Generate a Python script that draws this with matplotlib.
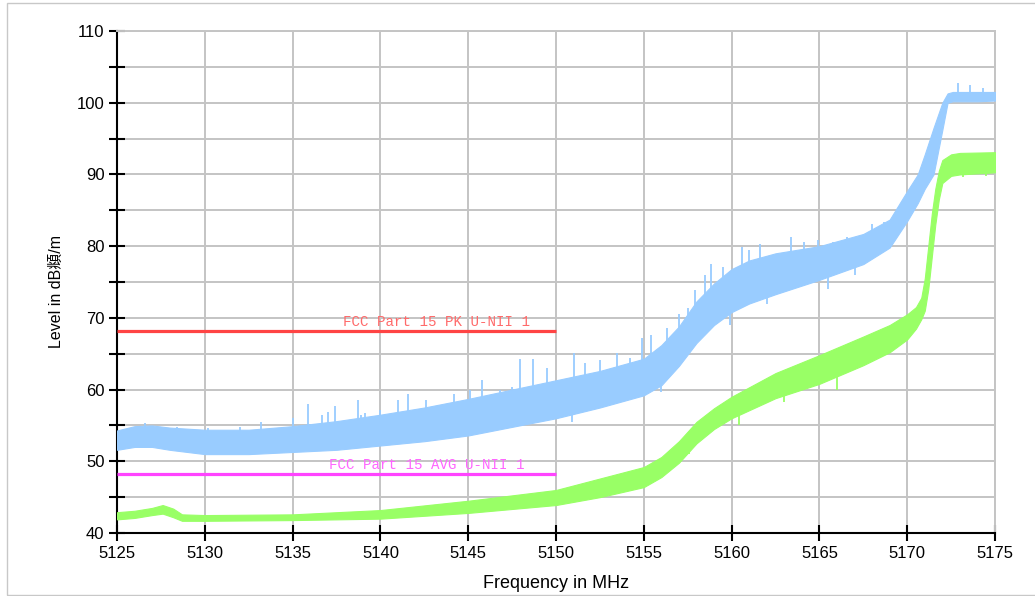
import numpy as np
import matplotlib
matplotlib.use("Agg")
import matplotlib.pyplot as plt
from matplotlib.patches import Rectangle

# ---------------- data ----------------
# Peak trace (blue) envelope
blue_freq = [5125, 5126, 5127, 5128, 5130, 5132.5, 5135, 5137.5, 5140, 5142.5,
             5145, 5147.5, 5150, 5152.5, 5155, 5156, 5157, 5158, 5159, 5160,
             5161, 5162.5, 5165, 5167.5, 5169, 5170, 5170.6, 5171, 5171.5,
             5172, 5172.3, 5172.6, 5174, 5175]
blue_upper = [54.3, 54.9, 55.0, 54.7, 54.4, 54.4, 54.9, 55.6, 56.5, 57.5,
              58.7, 60.0, 61.3, 62.6, 64.3, 66.2, 68.8, 72.3, 74.8, 76.8,
              78.0, 79.0, 80.0, 81.7, 83.7, 87.7, 90.0, 92.8, 96.5,
              100.0, 101.3, 101.5, 101.5, 101.5]
blue_lower = [51.6, 52.0, 52.0, 51.6, 51.0, 51.0, 51.3, 51.6, 52.2, 52.8,
              53.6, 54.8, 56.0, 57.5, 59.2, 60.6, 63.3, 66.5, 69.0, 70.8,
              72.0, 73.3, 75.3, 77.5, 79.8, 83.5, 86.0, 88.0, 90.0,
              96.2, 100.0, 100.2, 100.2, 100.3]
# isolated peaks of the blue trace
blue_spike_freq = [5126.6, 5128.4, 5130.2, 5132.0, 5133.2, 5135.0, 5135.9, 5136.7,
                   5137.0, 5137.4, 5138.7, 5138.9, 5139.1, 5140.0, 5141.0, 5141.6,
                   5142.6, 5144.2, 5145.1, 5145.8, 5146.8, 5147.5, 5147.95, 5148.7,
                   5149.5, 5151.0, 5151.65, 5152.5, 5153.5, 5154.2, 5154.9, 5155.4,
                   5156.3, 5157.0, 5157.5, 5157.9, 5158.5, 5158.8, 5159.5, 5160.6,
                   5161.0, 5161.6, 5162.2, 5163.4, 5164.1, 5164.9, 5165.8, 5166.6,
                   5168.0, 5168.7, 5172.9, 5173.6, 5174.3]
blue_spike_level = [55.3, 54.8, 54.6, 54.8, 55.5, 56.0, 58.0, 56.5,
                    56.9, 57.7, 58.5, 56.5, 56.7, 57.2, 58.5, 59.4,
                    58.5, 59.4, 59.9, 61.3, 59.9, 60.4, 64.3, 64.3,
                    63.0, 65.1, 63.7, 64.1, 65.1, 64.4, 67.2, 67.6,
                    68.6, 70.5, 71.4, 73.9, 76.0, 77.5, 77.1, 79.9,
                    79.5, 80.3, 78.5, 81.3, 80.6, 80.9, 80.6, 81.3,
                    83.1, 83.4, 102.7, 102.5, 102.0]
blue_dip_freq = [5150.9, 5156.0, 5159.9, 5162.0, 5165.5, 5167.0]
blue_dip_level = [55.5, 59.7, 69.0, 72.0, 74.0, 76.0]

# Average trace (green) envelope
green_freq = [5125, 5126, 5127, 5127.6, 5128.2, 5128.7, 5130, 5135, 5140, 5145,
              5150, 5152.5, 5155, 5156, 5157, 5158, 5159, 5160, 5162.5, 5165,
              5167.5, 5169, 5170, 5170.5, 5170.8, 5171.0, 5171.2, 5171.4,
              5171.6, 5171.8, 5172, 5172.5, 5173, 5175]
green_upper = [42.9, 43.1, 43.5, 43.9, 43.4, 42.6, 42.5, 42.6, 43.2, 44.5,
               46.0, 47.6, 49.2, 50.6, 52.8, 55.5, 57.4, 59.0, 62.3, 64.8,
               67.4, 69.0, 70.5, 71.5, 72.8, 75.5, 80.0, 84.5,
               88.0, 90.5, 92.0, 92.8, 93.0, 93.1]
green_lower = [41.9, 42.1, 42.5, 42.7, 42.2, 41.7, 41.7, 41.8, 42.0, 42.8,
               43.9, 45.0, 46.4, 47.8, 49.8, 52.5, 54.5, 56.0, 58.8, 60.8,
               63.4, 65.2, 67.0, 68.5, 69.8, 71.0, 74.0, 78.5,
               83.0, 86.5, 88.8, 89.8, 90.0, 90.3]
green_dip_freq = [5157.6, 5160.4, 5163.0, 5166.0, 5173.2, 5174.5]
green_dip_level = [51.0, 55.0, 58.3, 60.0, 89.6, 89.8]

# Limit lines
limit_names = ["FCC Part 15 PK U-NII 1", "FCC Part 15 AVG U-NII 1"]
limit_levels = [68.2, 48.2]
limit_start = [5125, 5125]
limit_stop = [5150, 5150]
limit_text_x = [5137.85, 5137.1]
limit_colors = ["#FF4444", "#FF44FF"]
limit_text_colors = ["#FF6A6A", "#FF66FF"]

x_ticks = [5125, 5130, 5135, 5140, 5145, 5150, 5155, 5160, 5165, 5170, 5175]
y_major = [40, 50, 60, 70, 80, 90, 100, 110]
y_minor = [45, 55, 65, 75, 85, 95, 105]

# ---------------- figure ----------------
W, H = 1035, 596
fig = plt.figure(figsize=(W / 100, H / 100), dpi=100)
ax = fig.add_axes([117 / W, 1 - 533 / H, (995 - 117) / W, (533 - 31) / H])

blue = "#99CCFF"
green = "#99FF66"

ax.fill_between(blue_freq, blue_lower, blue_upper, color=blue, lw=0.8, zorder=3)
ax.fill_between(green_freq, green_lower, green_upper, color=green, lw=0.8, zorder=4)

bu = np.interp(blue_spike_freq, blue_freq, blue_upper)
ax.vlines(blue_spike_freq, bu - 1.0, blue_spike_level, color=blue, lw=1.3, zorder=3)
bl = np.interp(blue_dip_freq, blue_freq, blue_lower)
ax.vlines(blue_dip_freq, blue_dip_level, bl + 1.0, color=blue, lw=1.3, zorder=3)
gl = np.interp(green_dip_freq, green_freq, green_lower)
ax.vlines(green_dip_freq, green_dip_level, gl + 0.5, color=green, lw=1.3, zorder=4)

for name, lev, x0, x1, tx, c, tc in zip(limit_names, limit_levels, limit_start,
                                        limit_stop, limit_text_x, limit_colors,
                                        limit_text_colors):
    ax.plot([x0, x1], [lev, lev], color=c, lw=2.3, zorder=5, solid_capstyle='butt')
    ax.text(tx, lev + 0.3, name, color=tc, fontsize=10.2, family="Liberation Mono",
            ha="left", va="bottom", zorder=6)

ax.set_xlim(5125, 5175)
ax.set_ylim(40, 110)
ax.set_xticks(x_ticks)
ax.set_xticklabels([str(v) for v in x_ticks])
ax.set_yticks(y_major)
ax.set_yticklabels([str(v) for v in y_major])
ax.set_yticks(y_minor, minor=True)

ax.set_axisbelow(True)
ax.grid(True, which="both", color="#C4C4C4", lw=1.4)

for s in ["left", "bottom"]:
    ax.spines[s].set_color("black")
    ax.spines[s].set_linewidth(1.5)
for s in ["top", "right"]:
    ax.spines[s].set_color("#C4C4C4")
    ax.spines[s].set_linewidth(1.4)

ax.tick_params(axis="both", which="both", direction="inout", length=12, width=1.5,
               color="black", labelsize=12, pad=3)
for lab in ax.get_xticklabels() + ax.get_yticklabels():
    lab.set_family(["Liberation Sans", "DejaVu Sans"])

fig.text(556 / W, 1 - 584 / H, "Frequency in MHz", ha="center", va="center",
         fontsize=13, family=["Liberation Sans", "DejaVu Sans"])
fig.text(56 / W, 1 - 291 / H, "Level in dB頫/m", ha="center", va="center",
         rotation=90, fontsize=11.5,
         family=["Liberation Sans", "Noto Sans CJK SC", "DejaVu Sans"])

fig.add_artist(Rectangle((7 / W, 1 - 595 / H), 1.2, (595 - 3) / H,
                         transform=fig.transFigure, fill=False,
                         edgecolor="#C8C8C8", lw=1.0))

fig.savefig("out.png", dpi=100)
